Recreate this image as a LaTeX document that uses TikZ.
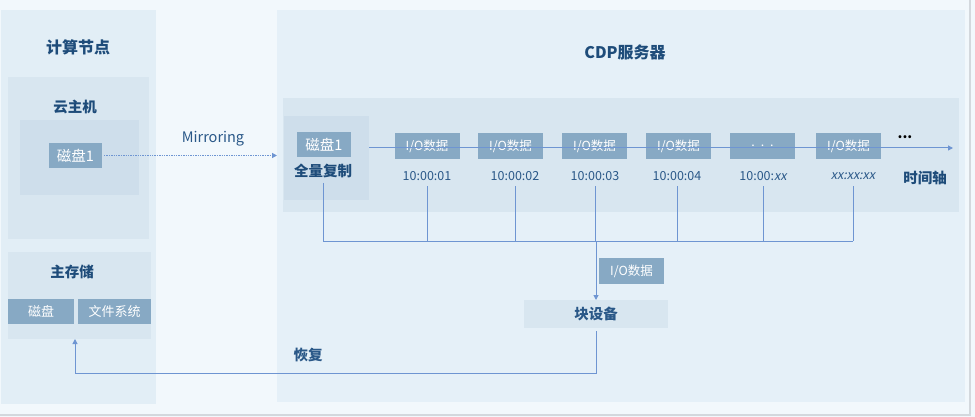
\documentclass[tikz,border=0pt]{standalone}
\usepackage{fontspec}
\setmainfont{Noto Sans CJK SC}
\newfontfamily\slfont{Noto Sans CJK SC}[FakeSlant=0.2]
\usetikzlibrary{arrows.meta}
\definecolor{bgc}{HTML}{F2F8FC}
\definecolor{framec}{HTML}{D3D8DD}
\definecolor{panelL}{HTML}{E2EEF6}
\definecolor{panelR}{HTML}{E5F0F8}
\definecolor{boxA}{HTML}{D8E6F0}
\definecolor{boxB}{HTML}{CEDEEB}
\definecolor{boxdark}{HTML}{87A9C4}
\definecolor{titlec}{HTML}{1E4C7A}
\definecolor{textc}{HTML}{2A5888}
\definecolor{linec}{HTML}{6E95D2}
\newcommand\fsz[1]{\fontsize{#1}{#1}\selectfont}
\tikzset{
  rect/.style={inner sep=0, outer sep=0, draw=none},
  darkbox/.style={rect, fill=boxdark, text=white, minimum height=25},
  iobox/.style={darkbox, minimum width=65, minimum height=26, font=\fsz{12.5}},
  titletext/.style={inner sep=0, text=titlec, font=\fsz{16}\bfseries},
  subtext/.style={inner sep=0, text=titlec, font=\fsz{14.5}\bfseries},
  timetext/.style={inner sep=0, text=textc, font=\fsz{12.5}, minimum height=14},
  conn/.style={draw=linec, line width=1pt},
  tip/.style={-{Triangle[length=5pt,width=5pt]}}
}
\begin{document}
\begin{tikzpicture}[x=1pt,y=-1pt]
\useasboundingbox (0,0) rectangle (975,417);
\fill[bgc] (0,0) rectangle (975,417);
\draw[framec, line width=1.2pt] (0,415) -- (970,415) -- (970,0);

% left panel
\node[rect, fill=panelL, minimum width=155, minimum height=394] (lpanel) at (78.5,207) {};
\node[titletext] (lt) at (78,47) {计算节点};
\node[rect, fill=boxA, minimum width=141, minimum height=162] (vm) at (78.5,158) {};
\node[subtext] (vmt) at (75,107) {云主机};
\node[rect, fill=boxB, minimum width=119, minimum height=75] (inner) at (79.5,157.5) {};
\node[darkbox, minimum width=53, font=\fsz{14.5}] (d1) at (75.5,155.5) {磁盘1};
\node[rect, fill=boxA, minimum width=143, minimum height=87] (stor) at (79.5,295.5) {};
\node[subtext] (stt) at (72,272) {主存储};
\node[darkbox, minimum width=66, font=\fsz{13}] (disk) at (41,311.5) {磁盘};
\node[darkbox, minimum width=73, font=\fsz{13}] (fs) at (114.5,311.5) {文件系统};

% right panel
\node[rect, fill=panelR, minimum width=688, minimum height=392] (rpanel) at (621,206) {};
\node[titletext] (rt) at (625,52) {CDP服务器};
\node[rect, fill=boxA, minimum width=676, minimum height=114] (band) at (621,155) {};
\node[rect, fill=boxB, minimum width=85, minimum height=84] (full) at (326.5,158) {};
\node[darkbox, minimum width=54, font=\fsz{14.5}] (d2) at (324,144.5) {磁盘1};
\node[subtext] (fullt) at (323,171) {全量复制};

\node[iobox] (io1) at (427,146) {I/O数据};
\node[iobox] (io2) at (510.5,146) {I/O数据};
\node[iobox] (io3) at (594.5,146) {I/O数据};
\node[iobox] (io4) at (678.5,146) {I/O数据};
\node[iobox] (io5) at (762.5,146) {.\hspace{6pt}.\hspace{6pt}.};
\node[iobox] (io6) at (848.5,146) {I/O数据};

\node[timetext] (t1) at (427,176) {10:00:01};
\node[timetext] (t2) at (515,176) {10:00:02};
\node[timetext] (t3) at (595,176) {10:00:03};
\node[timetext] (t4) at (677,176) {10:00:04};
\node[timetext] (t5) at (763,176) {10:00:{\slfont xx}};
\node[timetext] (t6) at (853,176) {\slfont xx:xx:xx};
\node[inner sep=0, font=\fsz{14}\bfseries] (dots) at (905,137) {...};
\node[subtext] (axis) at (925,178) {时间轴};

\coordinate (tlstart) at (369,148);
\coordinate (tlend) at (953,148);
\draw[conn, tip] (tlstart) -- (tlend);

% bus
\coordinate (bus) at (0,241);
\draw[conn] (fullt.south |- 0,183) -- (fullt.south |- bus) -- (t6.south |- bus);
\foreach \n in {t1,t2,t3,t4,t5,t6}{
  \draw[conn] (\n.south) ++(0,3) -- (\n.south |- bus);
}

\node[rect, fill=boxA, minimum width=144, minimum height=28, text=textc, font=\fsz{14.5}\bfseries] (blk) at (596,314) {块设备};
\node[iobox] (io7) at (631.5,271) {I/O数据};
\draw[conn, tip] (blk.north |- bus) -- (blk.north);

% restore
\node[inner sep=0, text=textc, font=\fsz{14.5}\bfseries] (rest) at (308,355) {恢复};
\coordinate (ret) at (75,373);
\draw[conn, tip] (blk.south) ++(0,3) |- (ret) -- (ret |- stor.south);

% mirroring
\draw[draw=linec, line width=1.6pt, dash pattern=on 1.4pt off 1pt, tip] (d1.east) ++(2,0) -- (d1.east -| rpanel.west);
\node[inner sep=0, text=textc, font=\fsz{14.5}] (mir) at (213,139) {Mirroring};
\end{tikzpicture}
\end{document}
